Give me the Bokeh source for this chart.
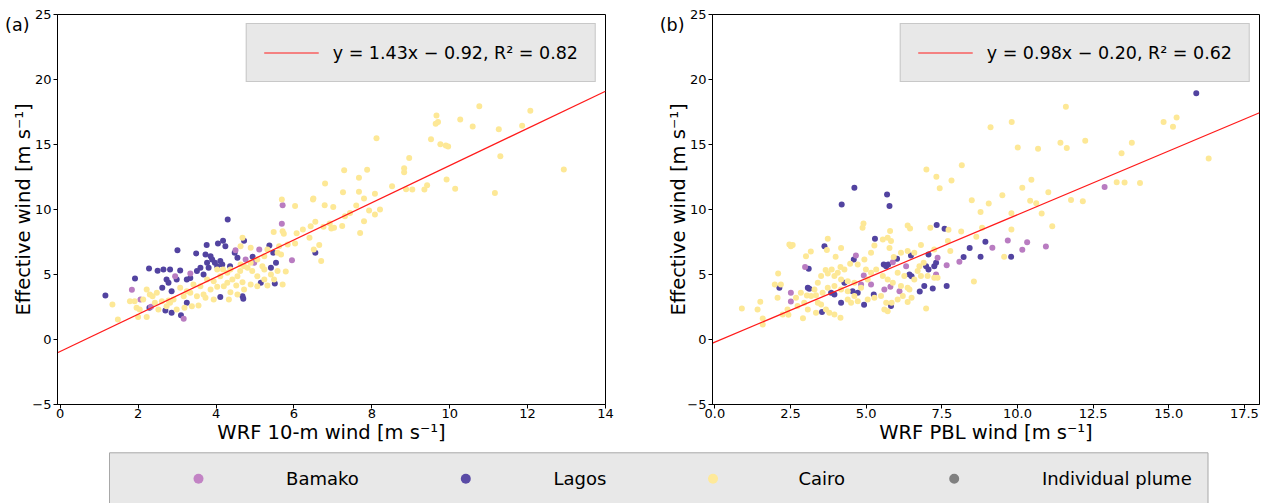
import numpy as np
from bokeh.plotting import figure
from bokeh.layouts import column, row
from bokeh.models import Legend, LegendItem, FixedTicker, LinearAxis, NumeralTickFormatter
from bokeh.core.properties import value
from bokeh.embed import file_html
from bokeh.resources import INLINE

FONT = "DejaVu Sans"

# ---------------- data: panel (a) WRF 10-m wind vs effective wind ----------------
bamako_a_x = [5.71, 5.69, 5.95, 1.84, 2.06, 2.33, 3.17, 4.50, 5.11, 4.76, 4.98, 3.34, 2.95]
bamako_a_y = [10.33, 8.90, 6.10, 3.82, 3.08, 2.51, 1.59, 6.87, 6.92, 6.15, 5.90, 5.08, 4.87]

lagos_a_x = [4.30, 3.01, 3.76, 4.05, 4.18, 4.24, 4.72, 3.49, 3.73, 3.86,
             3.90, 3.97, 4.03, 4.11, 4.16, 3.77, 3.81, 3.60, 3.51, 3.68,
             3.34, 3.25, 3.08, 2.82, 2.65, 2.50, 2.28, 1.92, 2.73, 2.78,
             2.99, 2.62, 2.86, 1.16, 2.29, 2.70, 2.86, 3.10, 3.25, 4.11,
             4.68, 4.70, 5.37, 5.47, 5.54, 5.41, 5.51, 5.15, 6.55, 4.48,
             4.55, 4.94, 4.36]
lagos_a_y = [9.23, 6.87, 7.26, 7.39, 7.59, 7.18, 7.59, 6.62, 6.54, 6.41,
             6.15, 5.90, 5.64, 6.03, 5.77, 5.90, 5.51, 5.51, 5.26, 5.00,
             4.74, 4.62, 5.31, 5.38, 5.38, 5.28, 5.46, 4.69, 4.62, 4.36,
             4.62, 3.98, 3.72, 3.39, 2.44, 2.23, 2.05, 1.87, 2.82, 3.26,
             3.33, 3.13, 7.23, 6.67, 5.90, 5.51, 4.31, 4.36, 6.67, 6.67,
             6.28, 6.36, 5.64]

cairo_a_x = [5.69, 6.03, 6.49, 6.79, 5.48, 5.71, 5.74, 6.07, 6.23, 6.43,
             6.55, 6.76, 6.92, 6.40, 6.03, 5.84, 5.62, 5.58, 5.67, 5.32,
             5.24, 5.06, 4.89, 4.72, 4.62, 4.55, 4.42, 4.29, 4.20, 4.03,
             3.86, 3.68, 3.51, 3.34, 3.17, 3.08, 2.91, 2.82, 2.73, 2.61,
             2.43, 2.30, 2.13, 2.04, 1.96, 1.79, 1.91, 2.22, 1.34, 1.48,
             2.22, 2.00, 2.48, 3.25, 3.42, 3.60, 3.77, 3.94, 4.11, 4.29,
             4.37, 4.63, 4.81, 4.93, 5.06, 5.24, 5.41, 5.58, 5.71, 5.79,
             5.49, 5.32, 5.06, 4.89, 4.72, 4.55, 4.37, 4.33, 3.94, 3.73,
             3.55, 3.38, 3.19, 2.99, 2.78, 2.52, 2.37, 4.68, 4.63, 4.89,
             5.19, 4.03, 6.70, 6.65, 6.51, 4.18, 4.52, 4.68, 5.24,
             10.76, 9.66, 9.70, 9.64, 10.27, 10.59, 12.07, 11.86, 11.26, 9.52,
             9.76, 9.90, 9.96, 8.12, 8.96, 8.83, 8.83, 11.30, 12.93, 7.29,
             7.88, 7.67, 6.80, 9.92, 10.14, 11.16, 8.52, 8.88, 9.04, 9.35,
             9.42, 7.26, 7.67, 8.08, 6.50, 7.80, 7.01, 7.60, 7.93, 8.21,
             8.08, 7.31, 7.44, 7.80, 7.70, 7.24, 6.96, 7.03]
cairo_a_y = [10.77, 10.26, 10.77, 10.33, 8.26, 8.33, 8.13, 8.18, 8.46, 8.72,
             9.05, 8.67, 8.92, 7.82, 7.38, 7.31, 7.18, 6.67, 6.54, 6.92,
             6.41, 6.15, 5.90, 5.64, 5.26, 4.87, 4.62, 4.36, 4.10, 4.05,
             3.85, 3.46, 3.33, 3.59, 3.33, 3.98, 3.08, 2.82, 2.56, 2.95,
             2.82, 3.46, 3.08, 2.31, 2.44, 2.95, 2.95, 3.85, 2.69, 1.54,
             1.74, 1.74, 3.59, 3.72, 4.23, 4.10, 4.62, 4.49, 4.87, 5.13,
             5.38, 5.77, 5.51, 5.26, 4.87, 4.62, 5.00, 5.26, 4.23, 5.23,
             4.62, 4.15, 4.10, 4.23, 3.85, 3.46, 3.64, 3.08, 3.08, 3.21,
             2.62, 2.56, 2.44, 2.31, 3.00, 2.31, 3.33, 7.82, 7.18, 7.05,
             5.64, 5.38, 6.03, 7.26, 6.92, 5.38, 4.15, 4.41, 5.38,
             17.95, 17.23, 16.74, 16.59, 16.92, 16.38, 17.59, 16.44, 16.18, 15.41,
             15.02, 14.92, 14.85, 15.49, 13.97, 13.18, 12.87, 14.10, 13.08, 13.02,
             13.05, 12.44, 12.00, 12.31, 11.59, 11.26, 11.79, 11.56, 11.54, 11.54,
             11.87, 11.33, 11.36, 11.21, 10.85, 10.85, 10.20, 10.31, 9.92, 10.00,
             9.62, 9.49, 9.74, 9.10, 8.20, 8.74, 8.54, 8.59]

# ---------------- data: panel (b) WRF PBL wind vs effective wind ----------------
bamako_b_x = [4.66, 2.98, 2.51, 2.51, 4.92, 5.88, 6.32, 7.36, 7.66, 8.08,
              7.31, 6.10, 5.60, 5.80, 4.83, 5.16,
              12.88, 9.17, 9.68, 10.16, 10.32, 10.94]
bamako_b_y = [6.47, 5.57, 3.59, 2.93, 4.93, 5.95, 5.64, 6.29, 5.72, 5.98,
              5.00, 3.72, 3.85, 4.05, 4.23, 4.23,
              11.74, 7.05, 7.62, 6.90, 7.49, 7.15]

lagos_b_x = [4.61, 5.69, 5.77, 4.19, 7.33, 7.59, 5.29, 3.62, 4.59, 3.10,
             3.07, 3.12, 2.13, 3.54, 4.93, 5.25, 5.58, 5.66, 5.73, 6.02,
             6.48, 7.06, 6.98, 7.06, 7.25, 7.31, 6.43, 6.50, 6.92, 7.20,
             7.66, 8.42, 8.78, 8.22, 6.77, 5.82, 4.17, 3.95, 4.55, 4.72,
             4.28, 3.84,
             15.91, 8.94, 9.79]
lagos_b_y = [11.67, 11.16, 10.26, 10.39, 8.80, 8.52, 7.75, 7.18, 6.16, 5.44,
             3.98, 3.90, 3.98, 2.11, 2.67, 3.47, 5.77, 5.64, 5.77, 6.21,
             6.46, 6.54, 5.64, 5.39, 5.64, 5.90, 5.00, 4.87, 4.11, 3.93,
             4.11, 7.03, 6.36, 6.34, 3.70, 2.57, 2.82, 3.47, 3.72, 3.59,
             4.36, 3.59,
             18.95, 7.51, 6.36]

cairo_b_x = [0.89, 1.41, 1.58, 1.58, 2.07, 2.18, 1.98, 2.09, 2.57, 3.17,
             3.73, 3.70, 4.17, 3.99, 4.15, 3.86, 3.66, 3.95, 4.17, 4.39,
             4.61, 4.91, 4.88, 5.71, 5.79, 6.37, 6.45, 7.12, 7.32, 7.43,
             7.82, 6.99, 8.49, 8.78, 8.64, 8.56, 7.72, 8.14, 7.70, 7.78,
             7.25, 6.81, 6.59, 6.37, 6.15, 5.91, 5.77, 5.82, 5.55, 5.27,
             5.16, 4.94, 4.72, 4.47, 4.28, 4.06, 3.73, 3.51, 3.40, 3.29,
             3.18, 3.40, 3.51, 3.67, 3.78, 3.95, 4.15, 3.34, 3.07, 2.95,
             2.73, 2.68, 2.40, 2.43, 2.24, 2.91, 2.84, 3.04, 3.01, 2.51,
             2.46, 4.99, 5.16, 5.33, 5.55, 5.71, 5.88, 6.04, 6.26, 6.15,
             6.37, 6.59, 6.70, 6.81, 7.03, 7.25, 7.36, 6.76, 6.90, 5.49,
             5.66, 5.60, 5.71, 5.84, 6.04, 6.21, 6.43, 6.50, 6.37, 6.98,
             5.27, 5.05, 4.72, 4.50, 4.39, 4.61, 4.83, 5.05, 4.17, 4.39,
             3.95, 3.73, 3.56, 3.34, 1.50,
             11.60, 9.81, 9.11, 14.83, 15.14, 15.26, 11.42, 11.63, 12.24, 13.78,
             13.44, 10.01, 10.68, 8.16, 10.46, 10.16, 11.02, 9.50, 9.05, 10.42,
             10.62, 11.77, 12.16, 13.28, 13.54, 14.05, 16.32, 9.80, 10.80, 11.15,
             8.83, 9.80, 9.56]
cairo_b_y = [2.39, 2.31, 1.62, 1.16, 3.21, 4.23, 4.23, 5.08, 7.26, 6.77,
             7.75, 6.88, 7.03, 6.36, 5.57, 5.39, 5.34, 4.88, 4.62, 4.49,
             4.36, 8.93, 8.59, 7.82, 8.34, 8.77, 8.54, 8.59, 12.52, 11.64,
             12.23, 13.08, 10.72, 9.80, 7.90, 4.47, 8.44, 8.31, 7.57, 6.80,
             6.93, 7.26, 6.67, 6.80, 6.67, 6.34, 7.03, 7.57, 7.70, 7.23,
             6.67, 6.16, 5.77, 5.82, 5.39, 5.13, 5.08, 4.88, 4.36, 3.85,
             3.34, 2.82, 2.70, 2.31, 2.05, 1.93, 1.67, 2.05, 2.31, 2.82,
             2.57, 3.21, 2.31, 1.90, 1.93, 1.64, 3.59, 3.39, 6.41, 7.18,
             7.31, 5.39, 5.13, 5.39, 4.88, 4.62, 4.36, 5.13, 4.88, 4.11,
             3.98, 4.62, 5.26, 4.88, 4.88, 4.75, 4.75, 5.64, 5.90, 3.34,
             2.82, 2.31, 2.18, 2.82, 3.08, 3.34, 3.85, 3.21, 2.88, 2.39,
             3.21, 3.08, 2.95, 2.82, 3.08, 3.34, 3.98, 4.62, 3.85, 3.72,
             4.11, 3.98, 3.59, 3.41, 2.90,
             17.90, 16.74, 16.33, 16.74, 16.36, 17.08, 15.13, 14.74, 15.28, 15.13,
             14.33, 14.77, 14.67, 13.41, 12.28, 11.67, 11.33, 11.10, 10.46, 10.67,
             10.49, 10.74, 10.64, 12.10, 12.08, 12.03, 13.92, 9.72, 9.69, 8.72,
             8.59, 8.46, 6.36]

# regression fits shown in the legends (slope, intercept, R^2)
fit_a = (1.43, -0.92, 0.82)
fit_b = (0.98, -0.20, 0.62)

y_ticks = [-5, 0, 5, 10, 15, 20, 25]
xa_ticks = [0, 2, 4, 6, 8, 10, 12, 14]
xb_ticks = [0, 2.5, 5, 7.5, 10, 12.5, 15, 17.5]
y_label = "Effective wind [m s⁻¹]"

legend_names = ["Bamako", "Lagos", "Cairo", "Individual plume"]
C_BAMAKO, C_LAGOS, C_CAIRO = "#b97cc1", "#5243a0", "#fde896"
legend_colors = ["#c283c4", "#5a4ba6", "#fee99a", "#808080"]

# ---------------- layout constants ----------------
H1 = 450
FRAME_H = 390
MB_TOP = 14
MB_BOT = H1 - MB_TOP - FRAME_H
TAG_Y = 24.2


def style_axis(ax, size="13px"):
    ax.major_label_text_font = FONT
    ax.major_label_text_font_size = size
    ax.major_label_text_color = "black"
    ax.axis_label_text_font = FONT
    ax.axis_label_text_font_size = "19.5px"
    ax.axis_label_text_font_style = "normal"
    ax.axis_label_text_color = "black"
    ax.major_tick_out = 4
    ax.major_tick_in = 0
    ax.minor_tick_out = 0
    ax.minor_tick_in = 0
    ax.major_tick_line_color = "black"
    ax.axis_line_color = "black"


def panel(xr, xticks, xfmt, xlabel, series, fit, tag, mbl, frame_w, mbr):
    width = mbl + frame_w + mbr
    p = figure(width=width, height=H1, x_range=xr, y_range=(-5, 25),
               output_backend="svg", toolbar_location=None,
               min_border_left=mbl, min_border_right=mbr,
               min_border_top=MB_TOP, min_border_bottom=MB_BOT)
    p.xgrid.visible = False
    p.ygrid.visible = False
    p.outline_line_color = "black"
    p.outline_line_alpha = 1.0
    p.background_fill_color = "white"
    p.border_fill_color = "white"

    for xs, ys, col in series:
        p.scatter(xs, ys, size=6, fill_color=col, line_color=None)

    a, b, r2 = fit
    lx = np.array([xr[0], xr[1]])
    ln = p.line(lx, a * lx + b, line_color="#ff1a1a", line_width=1.2)
    sign = "−" if b < 0 else "+"
    lab = f"y = {a:.2f}x {sign} {abs(b):.2f}, R² = {r2:.2f}"
    leg = Legend(items=[LegendItem(label=lab, renderers=[ln])], location="top_right")
    leg.label_text_font = FONT
    leg.label_text_font_size = "17.5px"
    leg.label_text_color = "black"
    leg.glyph_width = 55
    leg.glyph_height = 23
    leg.label_height = 23
    leg.label_standoff = 14
    leg.padding = 17
    leg.margin = 9
    leg.spacing = 0
    leg.background_fill_color = "#e8e8e8"
    leg.background_fill_alpha = 1.0
    leg.border_line_color = "#a8a8a8"
    leg.border_line_width = 1
    p.add_layout(leg)

    xa = p.xaxis[0]
    style_axis(xa)
    xa.ticker = FixedTicker(ticks=xticks)
    if xfmt:
        xa.formatter = NumeralTickFormatter(format=xfmt)
    xa.axis_label = xlabel
    xa.major_label_standoff = 0
    xa.axis_label_standoff = 0

    ya = p.yaxis[0]
    style_axis(ya)
    ya.ticker = FixedTicker(ticks=y_ticks)
    ya.major_label_overrides = {-5: "−5"}
    ya.major_label_standoff = 2

    # outer left axis: carries the panel tag near the top and the y-axis title
    ta = LinearAxis(ticker=FixedTicker(ticks=[TAG_Y]), major_label_overrides={TAG_Y: tag},
                    axis_label=y_label)
    style_axis(ta, "17.5px")
    ta.axis_line_color = None
    ta.major_tick_line_color = None
    ta.minor_tick_line_color = None
    ta.major_tick_out = 0
    ta.major_label_standoff = 0
    ta.axis_label_standoff = -33
    p.add_layout(ta, "left")
    return p


p1 = panel((-0.07, 14.0), xa_ticks, None, "WRF 10-m wind [m s⁻¹]",
           [(lagos_a_x, lagos_a_y, C_LAGOS), (bamako_a_x, bamako_a_y, C_BAMAKO),
            (cairo_a_x, cairo_a_y, C_CAIRO)],
           fit_a, "(a)", 57, 548, 53)
p2 = panel((-0.08, 18.0), xb_ticks, "0.0", "WRF PBL wind [m s⁻¹]",
           [(lagos_b_x, lagos_b_y, C_LAGOS), (bamako_b_x, bamako_b_y, C_BAMAKO),
            (cairo_b_x, cairo_b_y, C_CAIRO)],
           fit_b, "(b)", 54, 547, 1)

# ---------------- shared legend strip ----------------
LW, LH = 1260, 503 - H1
leg = figure(width=LW, height=LH, x_range=(0, LW), y_range=(0, LH),
             output_backend="svg", toolbar_location=None,
             min_border=0, x_axis_location=None, y_axis_location=None)
leg.xgrid.visible = False
leg.ygrid.visible = False
leg.outline_line_color = None
leg.quad(left=[109], right=[1207.5], bottom=[-20], top=[LH - 2.3],
         fill_color="#e8e8e8", line_color="#a8a8a8", line_width=1)
mark_x = [198, 465.3, 712.5, 953.7]
text_x = [285.6, 552.9, 797.9, 1041.4]
item_y = LH - 28.3
leg.scatter(mark_x, [item_y] * 4, size=10, fill_color=legend_colors, line_color=None)
leg.text(text_x, [item_y] * 4, text=legend_names, text_font=value(FONT),
         text_font_size="18px", text_baseline="middle", text_align="left",
         text_color="black")

layout = column(row(p1, p2), leg)
open("out.html", "w").write(file_html(layout, INLINE))
